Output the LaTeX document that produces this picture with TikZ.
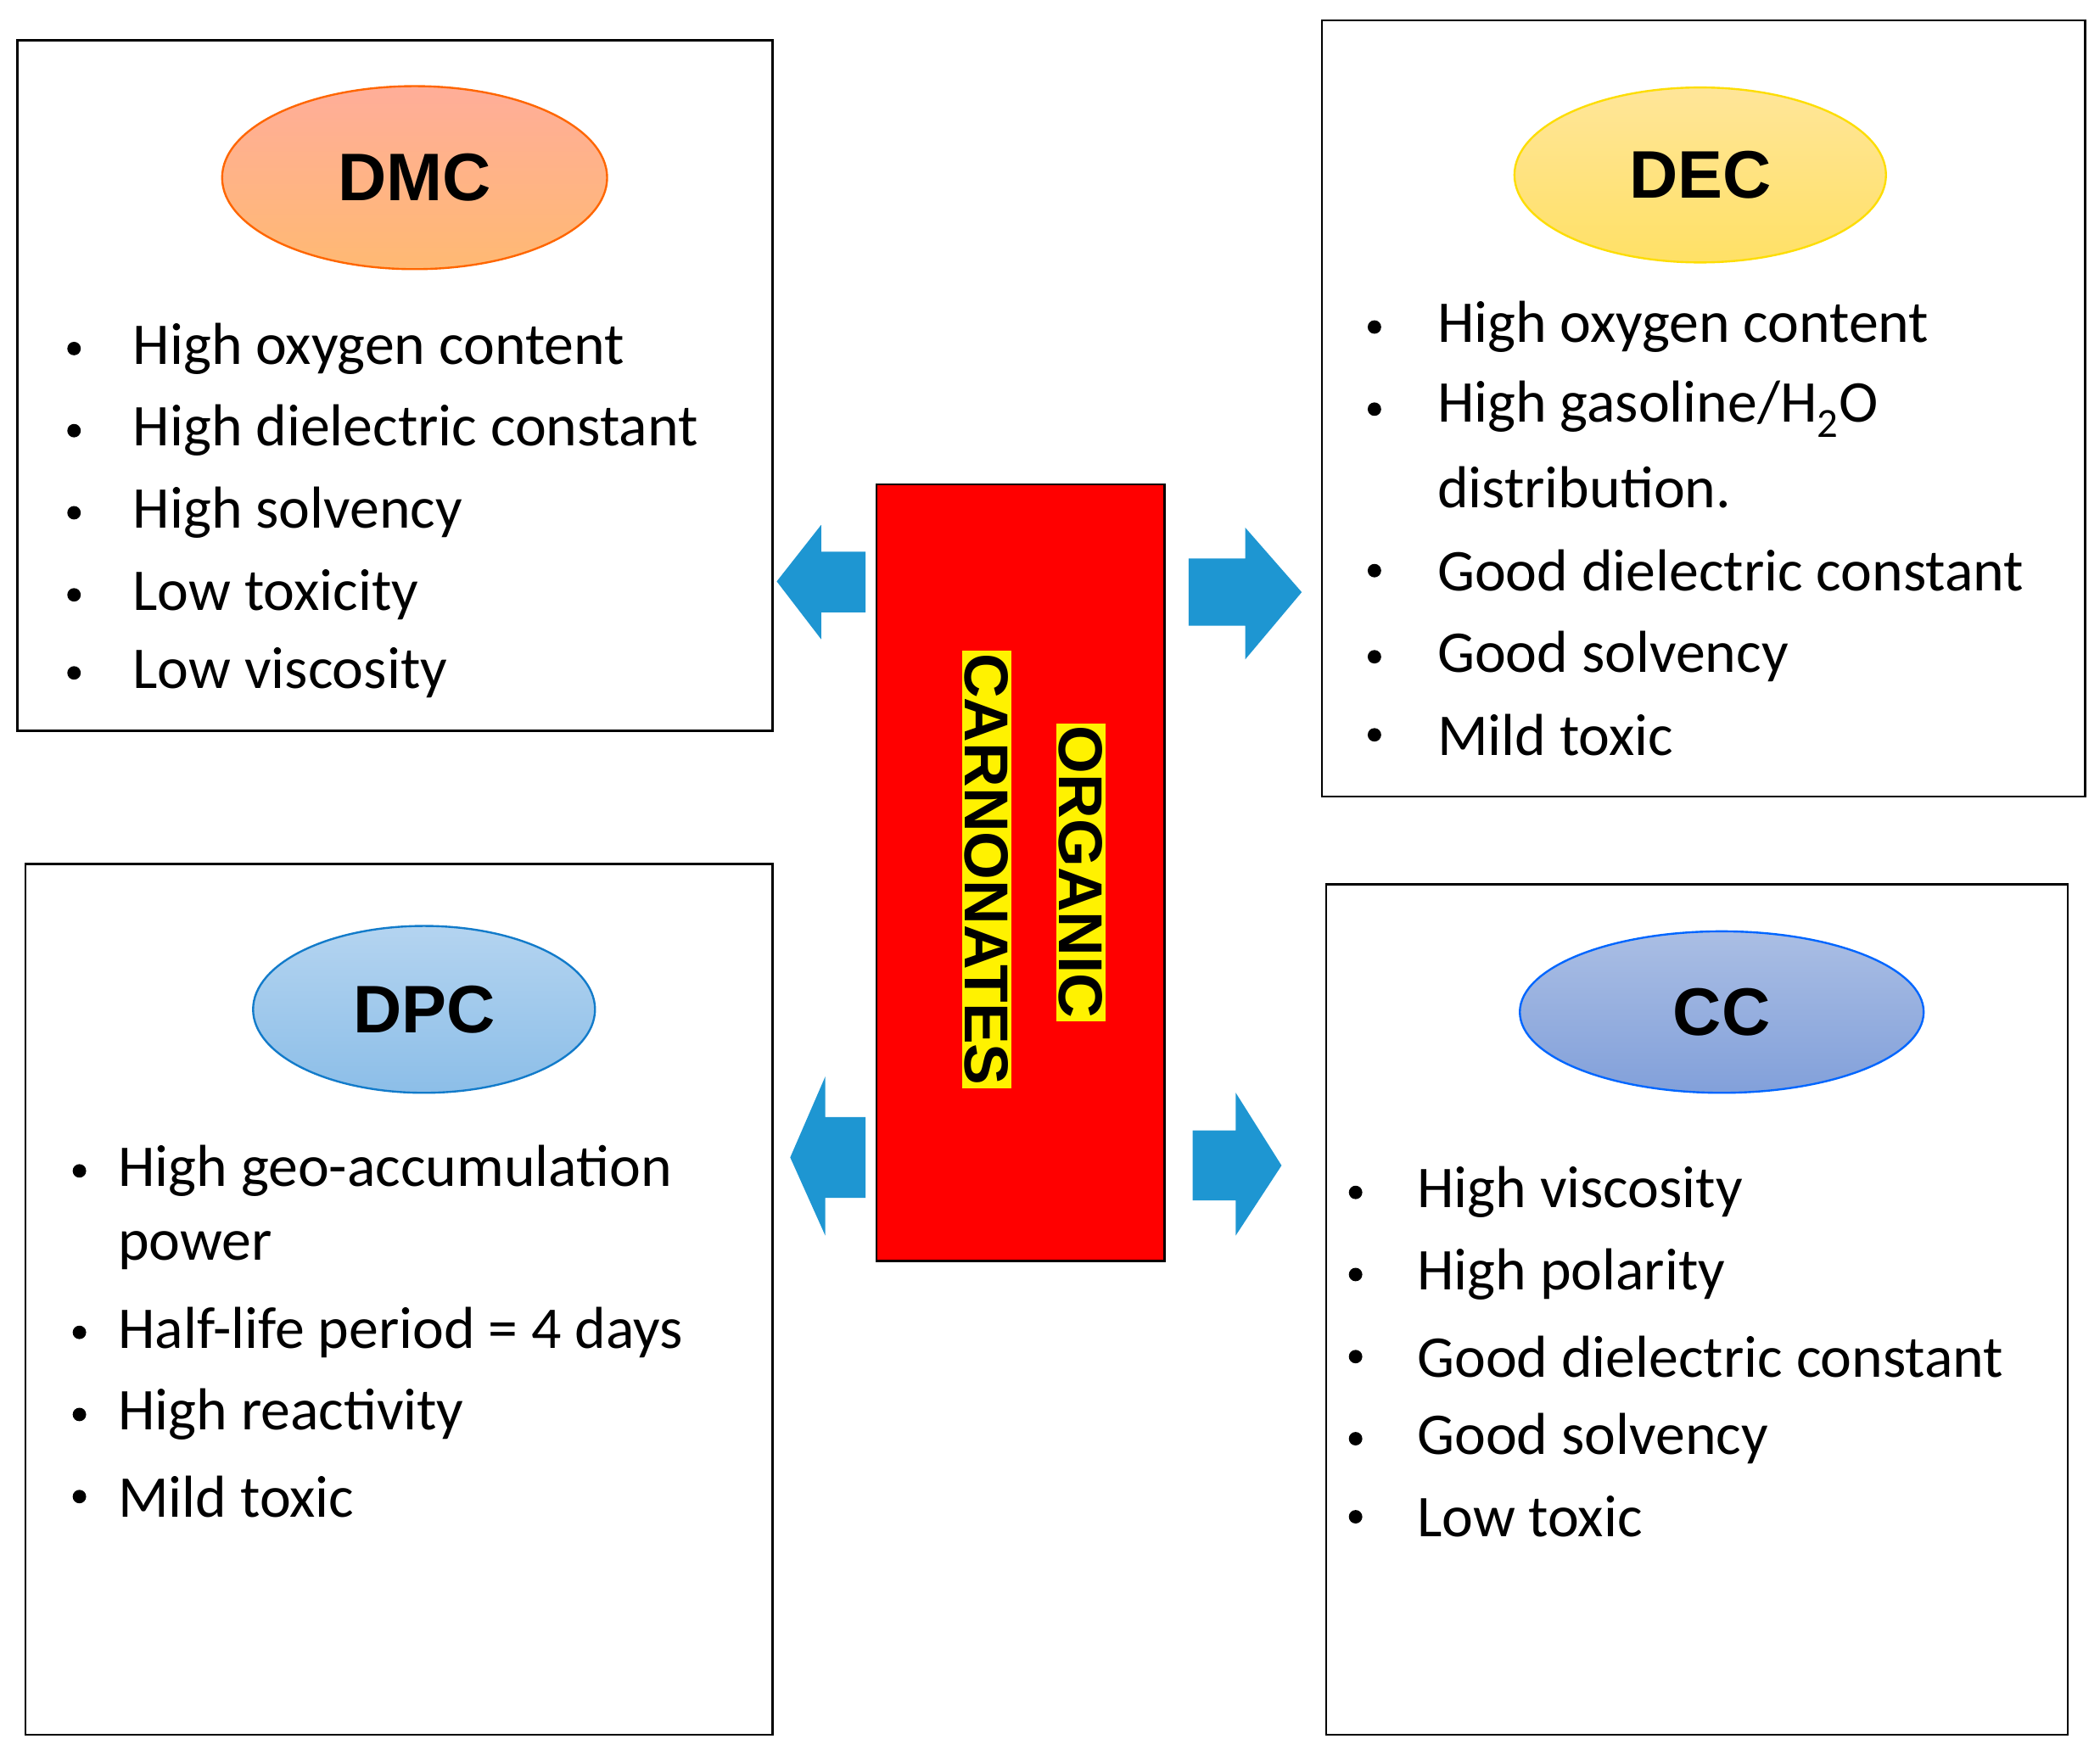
\documentclass[tikz,border=0pt]{standalone}
\usepackage{fontspec}
\setmainfont{Carlito}
\newfontfamily\titlefont{Liberation Sans}
\usetikzlibrary{shapes.geometric}
\definecolor{arrowblue}{RGB}{30,150,210}
\definecolor{dpctop}{RGB}{180,212,240}
\definecolor{dpcbot}{RGB}{140,190,232}
\definecolor{cctop}{RGB}{170,190,228}
\definecolor{ccbot}{RGB}{130,160,218}
\tikzset{every picture/.style={line width=1.5pt}}
\tikzset{
  infobox/.style={draw=black,fill=white},
  title/.style={ellipse,draw,line width=1.5pt,minimum width=#1,font=\titlefont\bfseries\fontsize{50}{50}\selectfont},
  item/.style={anchor=west,inner sep=0pt,font=\fontsize{44}{44}\selectfont},
  dot/.style={circle,fill=black,inner sep=0pt,minimum size=10pt},
  band/.style={fill=yellow,inner sep=2pt,rotate=-90,font=\titlefont\bfseries\fontsize{46}{46}\selectfont},
  bluearrow/.style={fill=arrowblue,draw=none}
}
\newcommand{\bulletline}[4]{% name, bullet x, text x, y
  \node[dot] at (#2,#4) {};
  \node[item] (#1) at (#3,#4)}

\begin{document}
\begin{tikzpicture}[x=1pt,y=1pt,yscale=-1]
\useasboundingbox (0,0) rectangle (1560,1300);

%boxes
\draw[infobox] (13,30) rectangle (574,543);
\draw[infobox] (982,15) rectangle (1549,592);
\draw[infobox] (19,642) rectangle (574,1289);
\draw[infobox] (985,657) rectangle (1536,1289);

%titles
\node[title=286pt,minimum height=136pt,draw=orange!80!red,top color=orange!40!red!40,bottom color=orange!55] (dmc) at (308,132) {DMC};
\node[title=276pt,minimum height=130pt,draw=yellow!80!orange,top color=yellow!50!orange!40,bottom color=yellow!60!orange!60] (dec) at (1263,130) {DEC};
\node[title=254pt,minimum height=124pt,draw=cyan!60!blue,top color=dpctop,bottom color=dpcbot] (dpc) at (315,750) {DPC};
\node[title=300pt,minimum height=120pt,draw=blue!60!cyan,top color=cctop,bottom color=ccbot] (cc) at (1279,752) {CC};

%centre block
\draw[fill=red] (651,360) rectangle (865,937);
\node[band] (organic) at (803,648) {ORGANIC};
\node[band] (carbo) at (733,646) {CARNONATES};

%arrows
\path[bluearrow] (577,432) -- (610,390) -- (610,410) -- (643,410) -- (643,455) -- (610,455) -- (610,475) -- cycle;
\path[bluearrow] (967,440) -- (925,392) -- (925,415) -- (883,415) -- (883,465) -- (925,465) -- (925,490) -- cycle;
\path[bluearrow] (587,860) -- (613,800) -- (613,830) -- (643,830) -- (643,890) -- (613,890) -- (613,918) -- cycle;
\path[bluearrow] (952,866) -- (918,812) -- (918,840) -- (886,840) -- (886,892) -- (918,892) -- (918,918) -- cycle;

%DMC list
\bulletline{dmc1}{55}{98}{259} {High oxygen content};
\bulletline{dmc2}{55}{98}{320} {High dielectric constant};
\bulletline{dmc3}{55}{98}{381} {High solvency};
\bulletline{dmc4}{55}{98}{442} {Low toxicity};
\bulletline{dmc5}{55}{98}{500} {Low viscosity};

%DEC list
\bulletline{dec1}{1021}{1067}{243} {High oxygen content};
\bulletline{dec2}{1021}{1067}{304} {High gasoline/H\textsubscript{2}O};
\node[item] (dec2b) at (1067,362) {distribution.};
\bulletline{dec3}{1021}{1067}{424} {Good dielectric constant};
\bulletline{dec4}{1021}{1067}{488} {Good solvency};
\bulletline{dec5}{1021}{1067}{546} {Mild toxic};

%DPC list
\bulletline{dpc1}{59}{87}{870} {High geo-accumulation};
\node[item] (dpc1b) at (87,929) {power};
\bulletline{dpc2}{59}{87}{990} {Half-life period = 4 days};
\bulletline{dpc3}{59}{87}{1051} {High reactivity};
\bulletline{dpc4}{59}{87}{1112} {Mild toxic};

%CC list
\bulletline{cc1}{1007}{1052}{886} {High viscosity};
\bulletline{cc2}{1007}{1052}{947} {High polarity};
\bulletline{cc3}{1007}{1052}{1008} {Good dielectric constant};
\bulletline{cc4}{1007}{1052}{1069} {Good solvency};
\bulletline{cc5}{1007}{1052}{1127} {Low toxic};
\end{tikzpicture}
\end{document}
